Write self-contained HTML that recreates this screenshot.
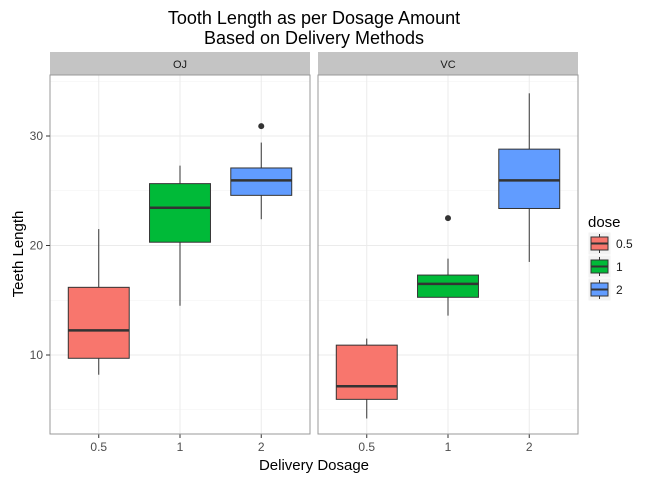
<!DOCTYPE html>
<html><head><meta charset="utf-8"><style>
body{margin:0;background:#fff;}
svg text{font-family:"Liberation Sans",Arial,sans-serif;}
</style></head><body>
<svg id="chart" width="672" height="480">
<rect width="672" height="480" fill="#fff"/>
<text x="314" y="24" font-size="18" text-anchor="middle">Tooth Length as per Dosage Amount</text>
<text x="314" y="44" font-size="18" text-anchor="middle">Based on Delivery Methods</text>
<text x="314" y="470" font-size="15" text-anchor="middle">Delivery Dosage</text>
<text transform="translate(23,254) rotate(-90)" font-size="15" text-anchor="middle">Teeth Length</text>
<g id="plot"></g>
<g>
<text x="588" y="227" font-size="15">dose</text>
</g>
</svg>
<script>
const panels = ["OJ","VC"];
const doses = ["0.5","1","2"];
const fills = ["#F8766D","#00BA38","#619CFF"];
// [lowWhisker, q1, median, q3, highWhisker]
const ojStats = [[8.2,9.7,12.25,16.18,21.5],[14.5,20.3,23.45,25.65,27.3],[22.4,24.58,25.95,27.08,29.4]];
const vcStats = [[4.2,5.95,7.15,10.9,11.5],[13.6,15.27,16.5,17.3,18.8],[18.5,23.38,25.95,28.8,33.9]];
const ojOutliers = [[],[],[30.9]];
const vcOutliers = [[],[22.5],[]];
const yTicks = [10,20,30];
const yMinor = [5,15,25,35];

const NS="http://www.w3.org/2000/svg";
const g=document.getElementById('plot');
function el(t,a,p){const e=document.createElementNS(NS,t);for(const k in a)e.setAttribute(k,a[k]);(p||g).appendChild(e);return e;}
const yTop=75,yBottom=434;
function y(v){return 355-(v-10)*10.95;}
const panelX=[50,318], panelW=260;
function x(i,p){return panelX[p]+panelW*(i+1-0.4)/3.2;}
const bw=panelW*0.75/3.2;
const allStats=[ojStats,vcStats], allOut=[ojOutliers,vcOutliers];
panels.forEach((name,p)=>{
  const x0=panelX[p];
  let s=el('rect',{x:x0,y:52,width:panelW,height:23,fill:'#c4c4c4'});
  
  
  let t=el('text',{x:x0+panelW/2,y:68,'font-size':11,'text-anchor':'middle',fill:'#1a1a1a'});
  t.textContent=name;
  
  
  yMinor.forEach(v=>{if(y(v)>yTop&&y(v)<yBottom)el('line',{x1:x0,x2:x0+panelW,y1:y(v),y2:y(v),stroke:'#f2f2f2','stroke-width':0.6});});
  yTicks.forEach(v=>el('line',{x1:x0,x2:x0+panelW,y1:y(v),y2:y(v),stroke:'#ebebeb','stroke-width':1}));
  doses.forEach((d,i)=>el('line',{x1:x(i,p),x2:x(i,p),y1:yTop,y2:yBottom,stroke:'#ebebeb','stroke-width':1}));
  doses.forEach((d,i)=>{
    const st=allStats[p][i], cx=x(i,p);
    el('line',{x1:cx,x2:cx,y1:y(st[0]),y2:y(st[1]),stroke:'#333','stroke-width':1});
    el('line',{x1:cx,x2:cx,y1:y(st[3]),y2:y(st[4]),stroke:'#333','stroke-width':1});
    let b=el('rect',{x:cx-bw/2,y:y(st[3]),width:bw,height:y(st[1])-y(st[3]),fill:fills[i],stroke:'#333','stroke-width':1});
    
    
    el('line',{x1:cx-bw/2,x2:cx+bw/2,y1:y(st[2]),y2:y(st[2]),stroke:'#333','stroke-width':2.5});
    allOut[p][i].forEach(o=>{
      let c=el('circle',{cx:cx,cy:y(o),r:3,fill:'#333'});
      
      
    });
    el('line',{x1:cx,x2:cx,y1:yBottom,y2:yBottom+4,stroke:'#333'});
    let tl=el('text',{x:cx,y:yBottom+17,'font-size':12,'text-anchor':'middle',fill:'#4d4d4d'});
    tl.textContent=d;
    
    
  });
  el('rect',{x:x0,y:yTop,width:panelW,height:yBottom-yTop,fill:'none',stroke:'#999','stroke-width':1});
});
yTicks.forEach(v=>{
  el('line',{x1:46,x2:50,y1:y(v),y2:y(v),stroke:'#333'});
  let tl=el('text',{x:43,y:y(v)+4,'font-size':12,'text-anchor':'end',fill:'#4d4d4d'});
  tl.textContent=v;
  
  
});
doses.forEach((d,i)=>{
  const ky=232+i*23;
  el('rect',{x:588,y:ky,width:23,height:23,fill:'#f2f2f2',stroke:'#fff'});
  el('line',{x1:599.5,x2:599.5,y1:ky+2,y2:ky+21,stroke:'#333'});
  let k=el('rect',{x:591,y:ky+5,width:17,height:13,fill:fills[i],stroke:'#333'});
  
  
  el('line',{x1:591,x2:608,y1:ky+11.5,y2:ky+11.5,stroke:'#333','stroke-width':2});
  let t=el('text',{x:616,y:ky+16,'font-size':12,fill:'#1a1a1a'});
  t.textContent=d;
  
  
});
</script>
</body></html>
